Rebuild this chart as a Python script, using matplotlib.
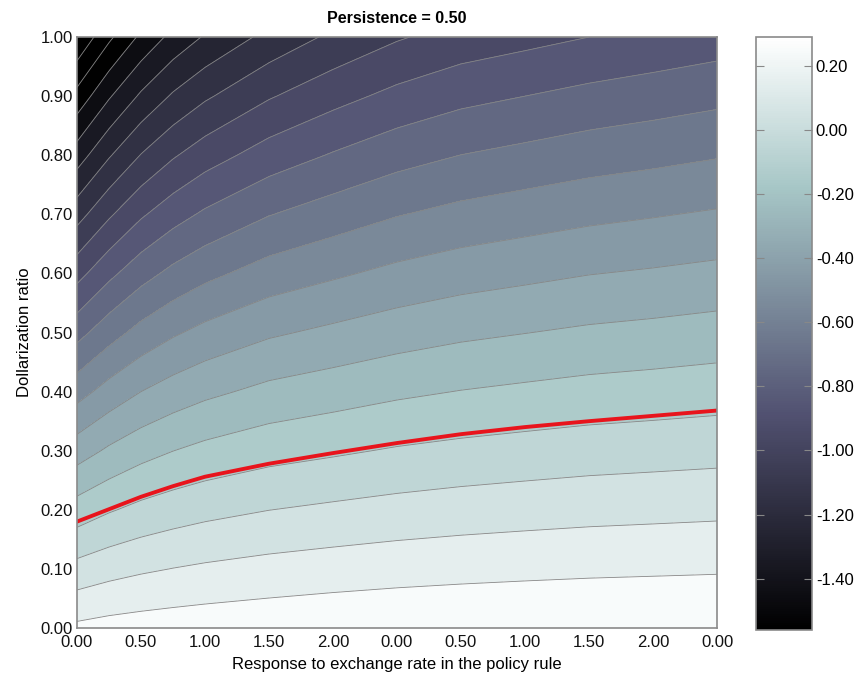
import numpy as np
import matplotlib
matplotlib.use("Agg")
import matplotlib.pyplot as plt
from matplotlib.colors import Normalize
from matplotlib.cm import ScalarMappable
from matplotlib.ticker import FormatStrFormatter

plt.rcParams["font.family"] = ["Liberation Sans", "DejaVu Sans"]
plt.rcParams["axes.unicode_minus"] = False

# ## Data ##
response = [0.0, 0.25, 0.5, 0.75, 1.0, 1.5, 2.0, 2.5, 3.0, 3.5, 4.0, 4.5, 5.0]
dollarization = [0.0, 0.1, 0.2, 0.3, 0.4, 0.5, 0.6, 0.7, 0.8, 0.9, 1.0]

# one list per response column, bottom (0.0) to top (1.0)
loss_by_column = [
    [0.221, 0.033, -0.156, -0.347, -0.539, -0.735, -0.935, -1.140, -1.350, -1.567, -1.790],
    [0.236, 0.064, -0.109, -0.284, -0.461, -0.641, -0.825, -1.015, -1.210, -1.411, -1.620],
    [0.245, 0.086, -0.074, -0.236, -0.400, -0.567, -0.738, -0.914, -1.096, -1.284, -1.480],
    [0.252, 0.102, -0.049, -0.201, -0.356, -0.513, -0.674, -0.840, -1.011, -1.187, -1.370],
    [0.258, 0.115, -0.029, -0.174, -0.322, -0.472, -0.626, -0.784, -0.946, -1.115, -1.290],
    [0.268, 0.134, -0.001, -0.137, -0.274, -0.414, -0.557, -0.704, -0.854, -1.009, -1.170],
    [0.278, 0.148, 0.018, -0.114, -0.246, -0.379, -0.515, -0.652, -0.792, -0.934, -1.080],
    [0.285, 0.160, 0.035, -0.091, -0.218, -0.346, -0.475, -0.605, -0.738, -0.873, -1.010],
    [0.290, 0.169, 0.048, -0.074, -0.197, -0.320, -0.445, -0.571, -0.699, -0.828, -0.960],
    [0.294, 0.176, 0.058, -0.061, -0.181, -0.302, -0.424, -0.547, -0.673, -0.800, -0.930],
    [0.297, 0.182, 0.067, -0.049, -0.166, -0.284, -0.403, -0.524, -0.647, -0.772, -0.900],
    [0.299, 0.186, 0.073, -0.041, -0.156, -0.272, -0.389, -0.507, -0.628, -0.750, -0.875],
    [0.300, 0.190, 0.079, -0.033, -0.145, -0.258, -0.373, -0.489, -0.607, -0.727, -0.850],
]

# red threshold curve
red_x = [0.0, 0.25, 0.5, 0.75, 1.0, 1.5, 2.0, 2.5, 3.0, 3.5, 4.0, 4.5, 5.0]
red_y = [0.180, 0.201, 0.222, 0.240, 0.256, 0.278, 0.296, 0.313, 0.328, 0.340, 0.350, 0.359, 0.368]

x_tick_pos = [0.0, 0.5, 1.0, 1.5, 2.0, 2.5, 3.0, 3.5, 4.0, 4.5, 5.0]
x_tick_labels = ["0.00", "0.50", "1.00", "1.50", "2.00", "0.00",
                 "0.50", "1.00", "1.50", "2.00", "0.00"]
y_tick_pos = [0.0, 0.1, 0.2, 0.3, 0.4, 0.5, 0.6, 0.7, 0.8, 0.9, 1.0]
cbar_ticks = [0.2, 0.0, -0.2, -0.4, -0.6, -0.8, -1.0, -1.2, -1.4]
cbar_min, cbar_max = -1.56, 0.29

# ## Figure ##
X, Y = np.meshgrid(response, dollarization)
Z = np.array(loss_by_column).T
levels = np.round(np.arange(-1.9, 0.31, 0.1), 2)
norm = Normalize(vmin=cbar_min, vmax=cbar_max)

fig = plt.figure(figsize=(8.62, 6.81), dpi=100)
ax = fig.add_axes([0.0893, 0.0778, 0.7425, 0.8678])
cax = fig.add_axes([0.877, 0.0749, 0.0646, 0.871])

ax.contourf(X, Y, Z, levels=levels, cmap="bone", norm=norm)
ax.contour(X, Y, Z, levels=levels[1:-1], colors="#868686",
           linewidths=0.6, linestyles="solid")
ax.plot(red_x, red_y, color="#e8141c", linewidth=2.8)

ax.set_xlim(0, 5)
ax.set_ylim(0, 1)
ax.set_xticks(x_tick_pos)
ax.set_xticklabels(x_tick_labels)
ax.set_yticks(y_tick_pos)
ax.yaxis.set_major_formatter(FormatStrFormatter("%.2f"))
ax.tick_params(length=0, labelsize=12, colors="#111111")
ax.tick_params(axis="x", pad=5)
ax.tick_params(axis="y", pad=3)
for spine in ax.spines.values():
    spine.set_color("#8a8a8a")
    spine.set_linewidth(1.2)

ax.set_title("Persistence = 0.50", fontsize=11.5, fontweight="bold", pad=10)
ax.set_xlabel("Response to exchange rate in the policy rule", fontsize=12, labelpad=5)
ax.set_ylabel("Dollarization ratio", fontsize=12, labelpad=6)

cb = fig.colorbar(ScalarMappable(norm=norm, cmap="bone"), cax=cax)
cb.set_ticks(cbar_ticks)
cb.ax.yaxis.set_major_formatter(FormatStrFormatter("%.2f"))
cb.ax.tick_params(direction="in", left=True, right=True, length=6, width=0.8,
                  color="#888888", labelsize=12, pad=3)
cb.outline.set_edgecolor("#8a8a8a")
cb.outline.set_linewidth(1.2)

fig.savefig("out.png", dpi=100)
